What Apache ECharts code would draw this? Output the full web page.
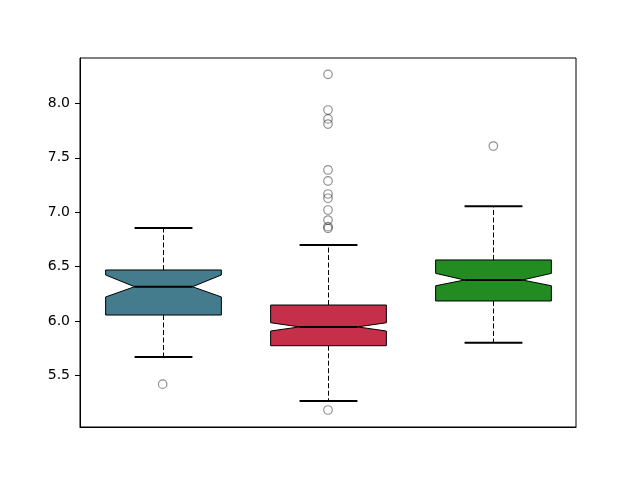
<!DOCTYPE html>
<html><head><meta charset="utf-8">
<script src="https://cdn.jsdelivr.net/npm/echarts@6/dist/echarts.min.js"></script>
<style>html,body{margin:0;padding:0;background:#fff}#c{width:640px;height:480px}</style>
</head><body><div id="c"></div>
<script>
const categories = ['1', '2', '3'];
const whiskerLow = [5.669, 5.265, 5.800];
const q1 = [6.055, 5.773, 6.184];
const notchLow = [6.221, 5.908, 6.324];
const median = [6.315, 5.946, 6.377];
const notchHigh = [6.423, 5.984, 6.438];
const q3 = [6.469, 6.147, 6.561];
const whiskerHigh = [6.855, 6.699, 7.054];
const outliers1 = [5.42];
const outliers2 = [8.267, 7.939, 7.857, 7.810, 7.388, 7.287, 7.167, 7.128, 7.020, 6.928, 6.867, 6.852, 5.182];
const outliers3 = [7.608];
const boxColors = ['#447b8d', '#c52f49', '#228b22'];
const yTicks = [5.5, 6.0, 6.5, 7.0, 7.5, 8.0];

const boxData = categories.map((c, i) => [i, whiskerLow[i], q1[i], notchLow[i], median[i], notchHigh[i], q3[i], whiskerHigh[i]]);
const outlierData = [];
[outliers1, outliers2, outliers3].forEach((arr, i) => arr.forEach(v => outlierData.push([i, v])));

function renderItem(params, api) {
  const i = api.value(0);
  const band = api.size([1, 0])[0];
  const half = band * 0.35;
  const notch = half / 2;
  const cap = half / 2;
  const x = Math.round(api.coord([i, 0])[0]) + 0.5;
  const y = k => api.coord([i, api.value(k)])[1];
  const wl = y(1), b1 = y(2), nl = y(3), md = y(4), nh = y(5), b3 = y(6), wh = y(7);
  const L = x - half, R = x + half;
  const dash = { stroke: '#000', lineWidth: 1, lineDash: [5, 2.5] };
  const solid2 = { stroke: '#000', lineWidth: 2 };
  return {
    type: 'group',
    children: [
      { type: 'line', shape: { x1: x, y1: b1, x2: x, y2: wl }, style: dash },
      { type: 'line', shape: { x1: x, y1: b3, x2: x, y2: wh }, style: dash },
      { type: 'line', shape: { x1: x - cap, y1: wl, x2: x + cap, y2: wl }, style: solid2 },
      { type: 'line', shape: { x1: x - cap, y1: wh, x2: x + cap, y2: wh }, style: solid2 },
      { type: 'polygon', shape: { points: [
        [L, b1], [R, b1], [R, nl], [R - notch, md], [R, nh], [R, b3],
        [L, b3], [L, nh], [L + notch, md], [L, nl]
      ] }, style: { fill: boxColors[i], stroke: '#000', lineWidth: 1 } },
      { type: 'line', shape: { x1: L + notch, y1: md, x2: R - notch, y2: md }, style: solid2 }
    ]
  };
}

const chart = echarts.init(document.getElementById('c'), null, { renderer: 'canvas' });
chart.setOption({
  animation: false,
  backgroundColor: '#fff',
  grid: { left: 80, right: 64, top: 58, bottom: 53, show: true, borderColor: '#000', borderWidth: 1, backgroundColor: 'transparent' },
  xAxis: {
    type: 'category', data: categories, boundaryGap: true,
    axisLine: { lineStyle: { color: '#000', width: 1 } },
    axisTick: { alignWithLabel: true, length: 5, lineStyle: { color: '#000' } },
    axisLabel: { show: false },
    splitLine: { show: false }
  },
  yAxis: {
    type: 'value', min: 5.026, max: 8.417,
    axisLine: { show: true, lineStyle: { color: '#000', width: 1 } },
    axisTick: { show: true, length: 5, customValues: yTicks, lineStyle: { color: '#000' } },
    axisLabel: { customValues: yTicks, formatter: v => v.toFixed(1), fontFamily: 'DejaVu Sans', fontSize: 14, color: '#000', margin: 10 },
    splitLine: { show: false }
  },
  series: [
    { type: 'custom', renderItem: renderItem, data: boxData, encode: { x: 0, y: [1, 7] }, z: 2 },
    { type: 'scatter', data: outlierData, symbol: 'circle', symbolSize: 8.5,
      itemStyle: { color: 'rgba(0,0,0,0)', borderColor: 'rgba(0,0,0,0.55)', borderWidth: 1.2 }, z: 3 }
  ]
});
</script></body></html>
